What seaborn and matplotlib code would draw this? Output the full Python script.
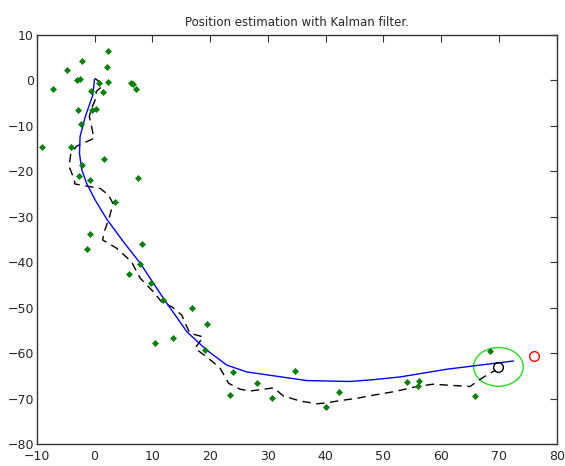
import matplotlib
matplotlib.use("Agg")
import matplotlib.pyplot as plt
from matplotlib.patches import Ellipse
import seaborn as sns
import pandas as pd

# Measurements (green dots)
meas_x = [2.3, -2.1, -4.8, 2.1, -3.1, -2.5, -7.1, 2.3, 0.8, 6.4, 6.6, 7.2, -0.6, 1.5,
          -2.9, -0.4, 0.3, -2.3, -9.1, -4.0, 1.7, -2.1, -2.7, -0.8, 7.5, 3.6,
          -0.8, -1.3, 8.3, 7.8, 6.0, 9.7, 11.8, 16.8, 19.5, 13.5, 10.4, 19.1,
          24.0, 34.7, 28.2, 23.4, 30.7, 42.3, 40.0, 68.5, 54.1, 56.2, 56.0, 65.9]
meas_y = [6.5, 4.2, 2.3, 2.8, 0.0, 0.2, -1.9, -0.3, -0.6, -0.7, -0.9, -1.9, -2.4, -2.6,
          -6.6, -6.6, -6.3, -9.6, -14.7, -14.7, -17.4, -18.6, -21.1, -21.9, -21.6, -26.7,
          -33.8, -37.2, -36.1, -40.4, -42.5, -44.6, -48.3, -50.1, -53.6, -56.7, -57.8, -59.2,
          -64.1, -63.8, -66.5, -69.1, -69.9, -68.6, -71.8, -59.4, -66.3, -66.2, -67.2, -69.4]

# True path (black dashed)
true_x = [0.1, 1.5, 0.3, 0.1, -0.5, -0.9, -0.5, -0.1, -3.1, -4.1, -4.4, -3.5, -3.4,
          1.0, 2.4, 3.2, 2.6, 1.8, 1.4, 3.8, 6.4, 7.9, 10.2, 11.6, 13.4, 15.1, 15.7,
          16.5, 18.8, 17.4, 19.4, 21.7, 23.2, 25.2, 26.9, 31.0, 32.7, 35.6, 38.5, 40.2,
          42.5, 45.4, 48.3, 52.0, 55.8, 58.6, 61.0, 65.0, 66.4, 67.9, 69.4]
true_y = [0.4, -1.1, -2.5, -4.4, -6.2, -8.0, -10.2, -12.8, -14.5, -16.1, -19.0, -21.8, -22.8,
          -23.8, -25.2, -27.1, -30.0, -32.9, -35.1, -36.9, -39.9, -43.5, -46.5, -48.7, -49.8,
          -51.6, -53.4, -55.6, -56.4, -58.9, -60.8, -63.2, -66.6, -67.9, -68.3, -67.6, -69.4,
          -70.5, -71.1, -70.9, -70.4, -69.9, -69.2, -68.4, -67.3, -66.8, -67.0, -67.3, -66.0,
          -64.8, -63.7]

# Kalman estimate (blue)
est_x = [0.0, -0.3, -1.6, -2.5, -2.6, -2.2, -1.35, 0.1, 2.1, 5.0, 7.9, 11.9, 16.0,
         19.4, 22.9, 26.3, 31.8, 36.7, 44.2, 48.3, 52.9, 61.0, 72.5]
est_y = [0.2, -3.3, -8.0, -12.4, -16.1, -19.7, -22.7, -26.3, -30.5, -35.5, -40.2, -47.9,
         -55.3, -59.3, -62.6, -64.1, -65.1, -66.0, -66.2, -65.8, -65.2, -63.5, -61.7]

current_pos = (69.9, -63.1)
predicted_pos = (76.1, -60.7)
ellipse_center = (69.9, -63.0)
ellipse_w, ellipse_h = 8.6, 8.5

sns.set_style("white")
plt.rcParams['font.family'] = ['DejaVu Sans']

fig = plt.figure(figsize=(5.65, 4.66), dpi=100)
ax = fig.add_axes([0.065, 0.0466, 0.9205, 0.879])

meas = pd.DataFrame({'x': meas_x, 'y': meas_y})
true_df = pd.DataFrame({'x': true_x, 'y': true_y})
est = pd.DataFrame({'x': est_x, 'y': est_y})

sns.lineplot(data=true_df, x='x', y='y', sort=False, estimator=None, ax=ax,
             color='black', lw=1, linestyle=(0, (6, 4)))
sns.lineplot(data=est, x='x', y='y', sort=False, estimator=None, ax=ax,
             color='blue', lw=1)
sns.scatterplot(data=meas, x='x', y='y', ax=ax, marker='D', s=9,
                color='#008000', edgecolor='#008000', linewidth=0.5, zorder=3)

ax.add_patch(Ellipse(ellipse_center, ellipse_w, ellipse_h, fill=False,
                     edgecolor='#22dd22', lw=1))
ax.plot(*current_pos, marker='o', ms=7, mfc='none', mec='black', mew=1)
ax.plot(*predicted_pos, marker='o', ms=7, mfc='none', mec='red', mew=1)

ax.set_xlim(-10, 80)
ax.set_ylim(-80, 10)
ax.set_xticks(range(-10, 81, 10))
ax.set_yticks(range(-80, 11, 10))
ax.set_xlabel('')
ax.set_ylabel('')
ax.tick_params(direction='in', length=5, top=True, right=True, labelsize=9,
               color='#333333')
ax.tick_params(axis='x', pad=4)
ax.tick_params(axis='y', pad=2)
for s in ax.spines.values():
    s.set_visible(True)
    s.set_color('#333333')
    s.set_linewidth(1)
ax.set_title('Position estimation with Kalman filter.', fontsize=8.5, pad=6)

fig.savefig('out.png', dpi=100)
